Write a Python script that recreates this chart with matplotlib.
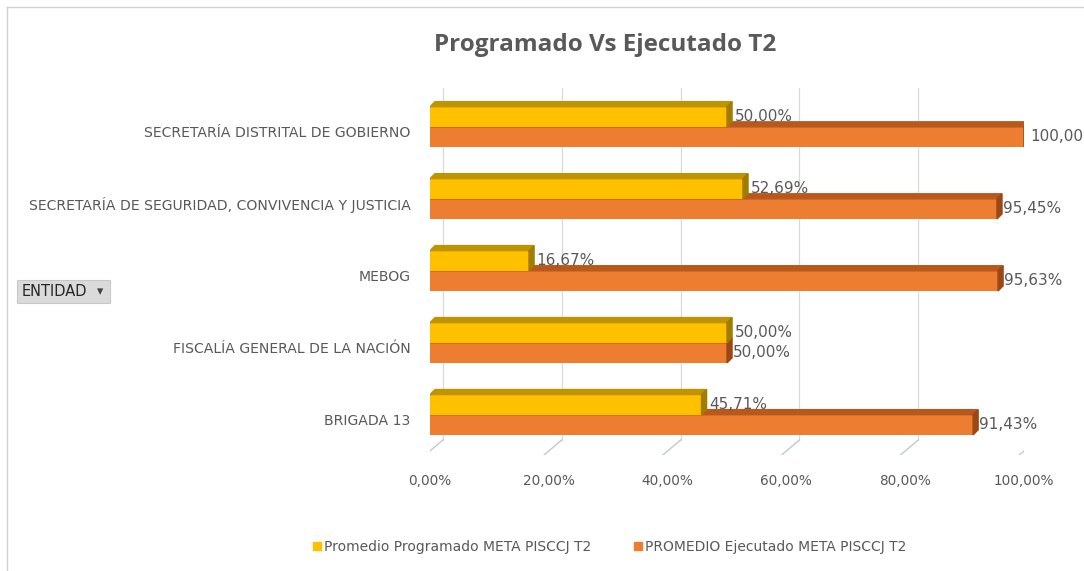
import matplotlib
matplotlib.use("Agg")
import matplotlib.pyplot as plt
from matplotlib.patches import Polygon, Rectangle
from matplotlib.lines import Line2D

plt.rcParams['font.family'] = ['Liberation Sans Narrow', 'DejaVu Sans']

# data (bottom to top, as drawn)
entidades = ["BRIGADA 13", "FISCALÍA GENERAL DE LA NACIÓN", "MEBOG",
             "SECRETARÍA DE SEGURIDAD, CONVIVENCIA Y JUSTICIA",
             "SECRETARÍA DISTRITAL DE GOBIERNO"]
programado = [0.4571, 0.50, 0.1667, 0.5269, 0.50]
ejecutado = [0.9143, 0.50, 0.9563, 0.9545, 1.00]
xticks = [0.0, 0.2, 0.4, 0.6, 0.8, 1.0]
xtick_labels = ["0,00%", "20,00%", "40,00%", "60,00%", "80,00%", "100,00%"]
serie_prog = "Promedio Programado META PISCCJ T2"
serie_ejec = "PROMEDIO Ejecutado META PISCCJ T2"

c_yel, c_yel_top, c_yel_side = "#FFC000", "#BE9400", "#A07C00"
c_ora, c_ora_top, c_ora_side = "#ED7D31", "#B8581D", "#9C4816"
txt = "#595959"

W, H = 1084, 571
fig = plt.figure(figsize=(W / 100, H / 100), dpi=100)
ax = fig.add_axes([430 / W, 1 - 455 / H, 594 / W, (455 - 88) / H])
ax.set_xlim(0, 1)
ax.set_ylim(-0.49, 4.61)
for s in ax.spines.values():
    s.set_visible(False)

dx, dy = 0.0085, 0.07      # bar depth
fx, fy = 0.022, 0.21       # floor depth
h = 0.28
floor = -0.49

# back wall gridlines + floor ticks
for t in xticks:
    ax.plot([t + fx, t + fx], [floor + fy, 4.61], color="#D9D9D9", lw=0.9, zorder=0)
    ax.plot([t - 0.008, t + fx], [floor, floor + fy], color="#BFC9D6", lw=1.0, zorder=0)


def bar3d(y0, v, front, top, side, z):
    ax.barh(y0, v, height=h, align='edge', color=front, zorder=z)
    ax.add_patch(Polygon([(0, y0 + h), (v, y0 + h), (v + dx, y0 + h + dy), (dx, y0 + h + dy)],
                         closed=True, color=top, zorder=z))
    ax.add_patch(Polygon([(v, y0), (v + dx, y0 + dy), (v + dx, y0 + h + dy), (v, y0 + h)],
                         closed=True, color=side, zorder=z))


for i, (p, e) in enumerate(zip(programado, ejecutado)):
    b = i + 0.07
    bar3d(b - h, e, c_ora, c_ora_top, c_ora_side, 2)
    bar3d(b, p, c_yel, c_yel_top, c_yel_side, 3)
    ax.text(p + dx + 0.004, b + h / 2, f"{p * 100:.2f}%".replace(".", ","),
            va="center", ha="left", fontsize=11, color=txt, zorder=5)
    ax.text(e + dx + 0.002, b - h / 2, f"{e * 100:.2f}%".replace(".", ","),
            va="center", ha="left", fontsize=11, color=txt, zorder=5, clip_on=False)

ax.set_yticks(range(len(entidades)))
ax.set_yticklabels(entidades, fontsize=10.1, color=txt)
ax.tick_params(axis='y', length=0, pad=14)
ax.set_xticks(xticks)
ax.set_xticklabels(xtick_labels, fontsize=9.8, color=txt)
ax.tick_params(axis='x', length=0, pad=14)

fig.text(605 / W, 1 - 45 / H, "Programado Vs Ejecutado T2", ha="center", va="center",
         fontsize=17.5, fontweight="bold", color=txt, family=['Open Sans', 'DejaVu Sans'])

# legend
handles = [Line2D([], [], marker='s', ls='', color=c_yel, markersize=6),
           Line2D([], [], marker='s', ls='', color=c_ora, markersize=6)]
fig.legend(handles, [serie_prog, serie_ejec], loc="center", bbox_to_anchor=(609 / W, 1 - 547 / H),
           ncol=2, frameon=False, fontsize=10, labelcolor=txt, handletextpad=0.1,
           columnspacing=3.0, handlelength=0.8)

# ENTIDAD field button
fig.patches.append(Rectangle((17 / W, 1 - 303 / H), 93 / W, 23 / H, transform=fig.transFigure,
                             facecolor="#DADADA", edgecolor="#C8C8C8", lw=0.8))
fig.text(22 / W, 1 - 292 / H, "ENTIDAD", ha="left", va="center", fontsize=10.5, color="#262626")
fig.text(100 / W, 1 - 292 / H, "▾", ha="center", va="center", fontsize=9, color="#404040",
         family=['DejaVu Sans'])

# chart frame (top and left edges visible)
fig.add_artist(Line2D([7 / W, 1.01], [1 - 7 / H, 1 - 7 / H], color="#D0D0D0", lw=1))
fig.add_artist(Line2D([7 / W, 7 / W], [-0.01, 1 - 7 / H], color="#D0D0D0", lw=1))

fig.savefig("out.png", dpi=100)
